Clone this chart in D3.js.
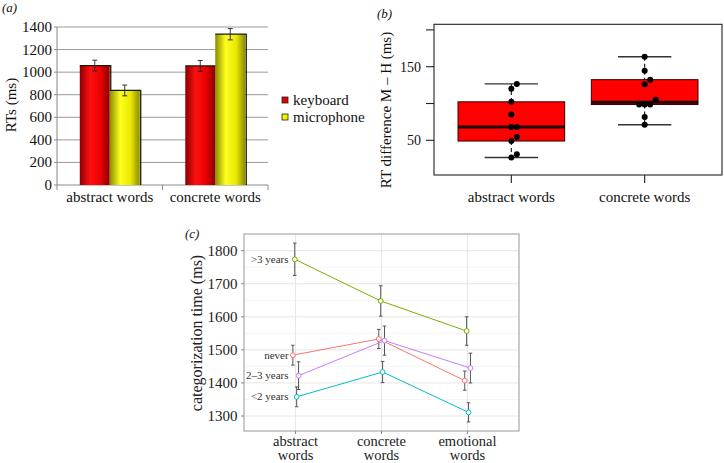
<!DOCTYPE html>
<html><head><meta charset="utf-8">
<script src="https://cdn.jsdelivr.net/npm/d3@7"></script>
<style>
html,body{margin:0;padding:0;background:#fff;}
svg text{font-family:"Liberation Serif","Times New Roman",Times,"DejaVu Serif",serif;}
</style></head>
<body>
<svg id="chart" width="724" height="463"></svg>
<script>
// ---------- Panel (a) data ----------
const aCategories = ["abstract words", "concrete words"];
const aSeries = ["keyboard", "microphone"];
const aKeyboard = [1058, 1055];
const aKeyboardErr = [48, 48];
const aMicrophone = [838, 1336];
const aMicrophoneErr = [48, 50];
const aTicks = [0, 200, 400, 600, 800, 1000, 1200, 1400];

// ---------- Panel (b) data ----------
const bCategories = ["abstract words", "concrete words"];
const bAbstract = [126.6, 119.9, 102.3, 85, 68, 68, 54.5, 49, 31, 26.6];
const bConcrete = [163.5, 144.6, 132.4, 126, 105, 98.6, 98.6, 98.6, 81.5, 71.2];
const bAbstractJitter = [1, 0, 0, 0, 0, 1, 1, 0, 1, 0];
const bConcreteJitter = [0, 0, 1, 0, 2, -1, 0, 1, 0, 0];
const bTicks = [50, 100, 150, 200];
const bTickLabels = ["50", "", "150", ""];

// ---------- Panel (c) data ----------
const cCategories = ["abstract words", "concrete words", "emotional words"];
const cGroups = ["never", ">3 years", "<2 years", "2\u20133 years"];
const cNever = [1484, 1533, 1407];
const cNeverErr = [30, 29, 29];
const cOver3 = [1774, 1648, 1557];
const cOver3Err = [49, 46, 43];
const cUnder2 = [1358, 1433, 1311];
const cUnder2Err = [30, 32, 29];
const c2to3 = [1422, 1528, 1445];
const c2to3Err = [42, 44, 45];
const cTicks = [1300, 1400, 1500, 1600, 1700, 1800];
const cMinorTicks = [1350, 1450, 1550, 1650, 1750];

const svg = d3.select("#chart");

// ================= PANEL A =================
(function(){
  const g = svg.append("g");
  const y = d3.scaleLinear().domain([0, 1400]).range([185, 27]);
  const x0 = d3.scaleBand().domain(aCategories).range([57, 268]).padding(0);
  const x1 = d3.scaleBand().domain(aSeries).range([0, x0.bandwidth()]).paddingInner(0).paddingOuter(0.76);

  const defs = svg.append("defs");
  function grad(id, dark, bright, mid) {
    const lg = defs.append("linearGradient").attr("id", id).attr("x1","0").attr("x2","1").attr("y1","0").attr("y2","0");
    lg.append("stop").attr("offset","0%").attr("stop-color", dark);
    lg.append("stop").attr("offset","35%").attr("stop-color", bright);
    lg.append("stop").attr("offset","70%").attr("stop-color", mid);
    lg.append("stop").attr("offset","100%").attr("stop-color", dark);
  }
  grad("gRed", "#8a0000", "#ff1010", "#e80000");
  grad("gYel", "#8c8c00", "#ffff20", "#e8e800");

  g.selectAll("line.grid").data(aTicks.filter(d => d > 0)).join("line")
    .attr("x1", 57).attr("x2", 268).attr("y1", d => y(d)).attr("y2", d => y(d))
    .attr("stroke", "#9a9a9a").attr("stroke-width", 1);
  g.append("line").attr("x1", 57).attr("x2", 57).attr("y1", 27).attr("y2", 185).attr("stroke", "#8a8a8a");
  g.append("line").attr("x1", 57).attr("x2", 268).attr("y1", 185).attr("y2", 185).attr("stroke", "#8a8a8a");
  g.selectAll("text.yt").data(aTicks).join("text")
    .attr("x", 52).attr("y", d => y(d) + 5).attr("text-anchor", "end")
    .attr("font-size", 15).attr("fill", "#111").text(d => d);
  g.selectAll("line.yt").data(aTicks).join("line")
    .attr("x1", 54).attr("x2", 57).attr("y1", d => y(d)).attr("y2", d => y(d)).attr("stroke", "#8a8a8a");
  g.selectAll("line.xt").data([57, x0(aCategories[1]), 268]).join("line")
    .attr("x1", d => d).attr("x2", d => d).attr("y1", 185).attr("y2", 190).attr("stroke", "#8a8a8a");

  const rows = aCategories.map((c, i) => [
    {cat: c, s: "keyboard", v: aKeyboard[i], e: aKeyboardErr[i], fill: "url(#gRed)"},
    {cat: c, s: "microphone", v: aMicrophone[i], e: aMicrophoneErr[i], fill: "url(#gYel)"}
  ]).flat();

  const bars = g.selectAll("g.bar").data(rows).join("g");
  bars.append("rect")
    .attr("x", d => x0(d.cat) + x1(d.s)).attr("y", d => y(d.v))
    .attr("width", x1.bandwidth()).attr("height", d => y(0) - y(d.v))
    .attr("fill", d => d.fill);
  bars.append("polyline")
    .attr("points", d => {
      const xl = x0(d.cat) + x1(d.s), xr = xl + x1.bandwidth() + 1, yt = y(d.v);
      return `${xl},${yt} ${xr},${yt} ${xr},${y(0)}`;
    })
    .attr("fill", "none").attr("stroke", "#1a1a00").attr("stroke-width", 1.3);
  bars.each(function(d){
    const cx = x0(d.cat) + x1(d.s) + x1.bandwidth()/2;
    const s = d3.select(this);
    s.append("line").attr("x1", cx).attr("x2", cx).attr("y1", y(d.v + d.e)).attr("y2", y(d.v - d.e)).attr("stroke", "#222").attr("stroke-width", 0.9);
    [d.v + d.e, d.v - d.e].forEach(t => s.append("line").attr("x1", cx - 2.5).attr("x2", cx + 2.5).attr("y1", y(t)).attr("y2", y(t)).attr("stroke", "#222").attr("stroke-width", 0.9));
  });

  g.selectAll("text.xl").data(aCategories).join("text")
    .attr("x", d => x0(d) + x0.bandwidth()/2).attr("y", 202).attr("text-anchor", "middle")
    .attr("font-size", 15).attr("fill", "#111").text(d => d);
  g.append("text").attr("transform", "translate(16,105) rotate(-90)").attr("text-anchor", "middle")
    .attr("font-size", 15).attr("fill", "#111").text("RTs (ms)");
  g.append("text").attr("x", 2).attr("y", 12).attr("font-size", 13).attr("font-style", "italic").attr("fill", "#111").text("(a)");

  const leg = g.selectAll("g.leg").data(aSeries).join("g")
    .attr("transform", (d, i) => `translate(282,${97 + i * 17})`);
  leg.append("rect").attr("width", 6).attr("height", 6)
    .attr("fill", (d, i) => i === 0 ? "#e00000" : "#f2f200").attr("stroke", "#222").attr("stroke-width", 0.8);
  leg.append("text").attr("x", 11).attr("y", 7.5).attr("font-size", 15).attr("fill", "#111").text(d => d);
})();

// ================= PANEL B =================
(function(){
  const g = svg.append("g");
  const y = d3.scaleLinear().domain([50, 150]).range([140.3, 66.7]);
  const x = d3.scalePoint().domain(bCategories).range([434, 722]).padding(0.58);
  const step = x.step();
  const boxW = step * 0.8, capW = step * 0.4;

  g.append("rect").attr("x", 434).attr("y", 24.3).attr("width", 288).attr("height", 150.7)
    .attr("fill", "none").attr("stroke", "#222").attr("stroke-width", 1.1);
  g.selectAll("line.yt").data(bTicks).join("line")
    .attr("x1", 426).attr("x2", 434).attr("y1", d => y(d)).attr("y2", d => y(d)).attr("stroke", "#222").attr("stroke-width", 1.1);
  g.selectAll("text.yt").data(bTicks).join("text")
    .attr("x", 421).attr("y", d => y(d) + 5).attr("text-anchor", "end")
    .attr("font-size", 14).attr("fill", "#111").text((d, i) => bTickLabels[i]);
  g.selectAll("line.xt").data(bCategories).join("line")
    .attr("x1", d => x(d)).attr("x2", d => x(d)).attr("y1", 175).attr("y2", 183).attr("stroke", "#222").attr("stroke-width", 1.1);
  g.selectAll("text.xl").data(bCategories).join("text")
    .attr("x", d => x(d)).attr("y", 202).attr("text-anchor", "middle")
    .attr("font-size", 15).attr("fill", "#111").text(d => d);

  const sets = [bAbstract, bConcrete];
  const jit = [bAbstractJitter, bConcreteJitter];
  bCategories.forEach((c, i) => {
    const vals = sets[i].slice().sort(d3.ascending);
    const n = vals.length;
    const med = d3.median(vals);
    const q1 = d3.median(vals.slice(0, Math.ceil(n / 2)));
    const q3 = d3.median(vals.slice(Math.floor(n / 2)));
    const lo = vals[0], hi = vals[n - 1];
    const cx = x(c);
    g.append("line").attr("x1", cx).attr("x2", cx).attr("y1", y(hi)).attr("y2", y(q3))
      .attr("stroke", "#111").attr("stroke-width", 1.1).attr("stroke-dasharray", "4,3");
    g.append("line").attr("x1", cx).attr("x2", cx).attr("y1", y(q1)).attr("y2", y(lo))
      .attr("stroke", "#111").attr("stroke-width", 1.1).attr("stroke-dasharray", "4,3");
    [hi, lo].forEach(v => g.append("line").attr("x1", cx - capW/2).attr("x2", cx + capW/2)
      .attr("y1", y(v)).attr("y2", y(v)).attr("stroke", "#333").attr("stroke-width", 1.4));
    g.append("rect").attr("x", cx - boxW/2).attr("y", y(q3)).attr("width", boxW).attr("height", y(q1) - y(q3))
      .attr("fill", "#ff0000").attr("stroke", "#3a0000").attr("stroke-width", 1);
    g.append("line").attr("x1", cx - boxW/2).attr("x2", cx + boxW/2).attr("y1", y(med)).attr("y2", y(med))
      .attr("stroke", "#200000").attr("stroke-width", 3);
    g.selectAll(null).data(sets[i]).join("circle")
      .attr("cx", (d, k) => cx + jit[i][k] * 5.5).attr("cy", d => y(d)).attr("r", 3)
      .attr("fill", "#000");
  });

  g.append("text").attr("transform", "translate(391,110) rotate(-90)").attr("text-anchor", "middle")
    .attr("font-size", 15).attr("fill", "#111").text("RT difference M \u2013 H (ms)");
  g.append("text").attr("x", 377).attr("y", 18).attr("font-size", 13).attr("font-style", "italic").attr("fill", "#111").text("(b)");
})();

// ================= PANEL C =================
(function(){
  const g = svg.append("g");
  const L = 244, R = 519, T = 234, B = 431;
  const y = d3.scaleLinear().domain([1300, 1800]).range([416, 250.7]);
  const x = d3.scalePoint().domain(cCategories).range([L, R]).padding(0.6);
  const dodge = d3.scalePoint().domain(cGroups).range([-2.7, 3]);
  const colors = d3.scaleOrdinal().domain(cGroups).range(["#F8766D", "#7CAE00", "#00BFC4", "#C77CFF"]);

  g.append("rect").attr("x", L).attr("y", T).attr("width", R - L).attr("height", B - T).attr("fill", "#fff");
  g.selectAll("line.mn").data(cMinorTicks).join("line")
    .attr("x1", L).attr("x2", R).attr("y1", d => y(d)).attr("y2", d => y(d)).attr("stroke", "#f2f2f2").attr("stroke-width", 0.8);
  g.selectAll("line.mj").data(cTicks).join("line")
    .attr("x1", L).attr("x2", R).attr("y1", d => y(d)).attr("y2", d => y(d)).attr("stroke", "#e6e6e6").attr("stroke-width", 1);
  g.selectAll("line.vx").data(cCategories).join("line")
    .attr("x1", d => x(d)).attr("x2", d => x(d)).attr("y1", T).attr("y2", B).attr("stroke", "#e6e6e6").attr("stroke-width", 1);
  g.append("rect").attr("x", L).attr("y", T).attr("width", R - L).attr("height", B - T)
    .attr("fill", "none").attr("stroke", "#a8a8a8").attr("stroke-width", 1.2);

  g.selectAll("line.yt").data(cTicks).join("line")
    .attr("x1", L - 3).attr("x2", L).attr("y1", d => y(d)).attr("y2", d => y(d)).attr("stroke", "#888");
  g.selectAll("line.xt").data(cCategories).join("line")
    .attr("x1", d => x(d)).attr("x2", d => x(d)).attr("y1", B).attr("y2", B + 3).attr("stroke", "#888");
  g.selectAll("text.yt").data(cTicks).join("text")
    .attr("x", 237.5).attr("y", d => y(d) + 5).attr("text-anchor", "end")
    .attr("font-size", 15).attr("fill", "#222").text(d => d);
  // two-line category labels as separate text lines
  const words = cCategories.map(d => d.split(" "));
  [0, 1].forEach(li => {
    g.selectAll(null).data(cCategories).join("text")
      .attr("x", d => x(d)).attr("y", 446 + li * 13.5).attr("text-anchor", "middle")
      .attr("font-size", 14.5).attr("fill", "#222").text((d, i) => words[i][li]);
  });

  g.append("text").attr("transform", "translate(202,333) rotate(-90)").attr("text-anchor", "middle")
    .attr("font-size", 16).attr("fill", "#222").text("categorization time (ms)");
  g.append("text").attr("x", 185).attr("y", 238).attr("font-size", 13).attr("font-style", "italic").attr("fill", "#111").text("(c)");

  const series = [
    {name: "never", v: cNever, e: cNeverErr},
    {name: ">3 years", v: cOver3, e: cOver3Err},
    {name: "<2 years", v: cUnder2, e: cUnder2Err},
    {name: "2\u20133 years", v: c2to3, e: c2to3Err}
  ];
  const line = d3.line().x(d => d.x).y(d => d.y);
  series.forEach(s => {
    const pts = cCategories.map((c, i) => ({x: x(c) + dodge(s.name), y: y(s.v[i]), v: s.v[i], e: s.e[i]}));
    g.append("path").attr("d", line(pts)).attr("fill", "none").attr("stroke", colors(s.name)).attr("stroke-width", 1);
    pts.forEach(p => {
      g.append("line").attr("x1", p.x).attr("x2", p.x).attr("y1", y(p.v + p.e)).attr("y2", y(p.v - p.e)).attr("stroke", "#555").attr("stroke-width", 1);
      [p.v + p.e, p.v - p.e].forEach(t => g.append("line").attr("x1", p.x - 1.8).attr("x2", p.x + 1.8).attr("y1", y(t)).attr("y2", y(t)).attr("stroke", "#555").attr("stroke-width", 1));
    });
    g.selectAll(null).data(pts).join("circle")
      .attr("cx", d => d.x).attr("cy", d => d.y).attr("r", 2.4)
      .attr("fill", "#fff").attr("stroke", colors(s.name)).attr("stroke-width", 1);
    g.append("text").attr("x", x(cCategories[0]) - 7).attr("y", y(s.v[0]) + 3.5)
      .attr("text-anchor", "end").attr("font-size", 11).attr("fill", "#333").text(s.name);
  });
})();
</script>
</body></html>
